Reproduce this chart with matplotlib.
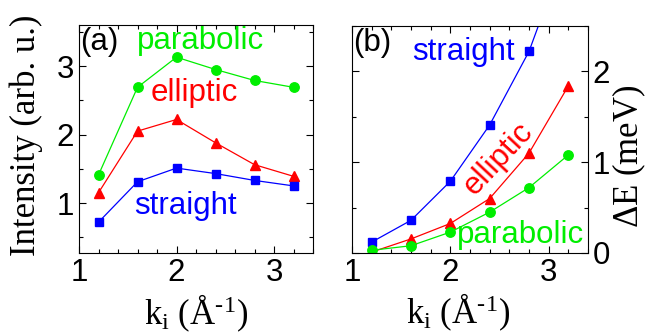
import matplotlib
matplotlib.use('Agg')
import matplotlib.pyplot as plt
from matplotlib.ticker import MultipleLocator

# ---- data ----
ki = [1.2, 1.6, 2.0, 2.4, 2.8, 3.2]

int_parabolic = [1.41, 2.69, 3.13, 2.95, 2.79, 2.69]
int_elliptic = [1.15, 2.05, 2.22, 1.88, 1.56, 1.39]
int_straight = [0.72, 1.31, 1.51, 1.43, 1.33, 1.25]

de_straight = [0.12, 0.36, 0.79, 1.41, 2.22, 3.40]
de_elliptic = [0.01, 0.155, 0.325, 0.60, 1.10, 1.84]
de_parabolic = [0.03, 0.08, 0.23, 0.45, 0.72, 1.08]

GREEN = '#00ee00'
RED = '#ff0000'
BLUE = '#0000ff'

plt.rcParams['font.family'] = 'Liberation Sans'
plt.rcParams['mathtext.fontset'] = 'custom'
plt.rcParams['mathtext.rm'] = 'Liberation Serif'
plt.rcParams['mathtext.it'] = 'Liberation Serif:italic'

FS = 22.5     # in-plot text and tick labels
LFS = 25      # axis labels

fig = plt.figure(figsize=(6.49, 3.34), dpi=100)
ax1 = fig.add_axes([79/649, 1-253/334, 234/649, 228/334])
ax2 = fig.add_axes([352/649, 1-253/334, 236/649, 227/334])

def style(ax):
    ax.set_xlim(1, 3.4)
    ax.xaxis.set_major_locator(MultipleLocator(1))
    ax.xaxis.set_minor_locator(MultipleLocator(0.2))
    ax.yaxis.set_major_locator(MultipleLocator(1))
    ax.yaxis.set_minor_locator(MultipleLocator(0.5))
    ax.tick_params(which='both', direction='in', top=True, right=True,
                   left=True, bottom=True, labelsize=FS, width=0.8)
    ax.tick_params(which='major', length=5)
    ax.tick_params(which='minor', length=3)
    for s in ax.spines.values():
        s.set_linewidth(0.8)

xlab = r'k$_\mathregular{i}$ (Å$^{\mathregular{\text{-}1}}$)'

# ---- (a) ----
ax1.plot(ki, int_parabolic, '-o', color=GREEN, lw=0.9, ms=6.8)
ax1.plot(ki, int_elliptic, '-^', color=RED, lw=0.9, ms=7.7)
ax1.plot(ki, int_straight, '-s', color=BLUE, lw=0.9, ms=5.8)
style(ax1)
ax1.set_ylim(0.27, 3.6)
ax1.text(0.005, 0.99, '(a)', transform=ax1.transAxes, fontsize=FS, va='top', ha='left')
ax1.text(1.59, 3.36, 'parabolic', color=GREEN, fontsize=FS, ha='left', va='center')
ax1.text(1.73, 2.61, 'elliptic', color=RED, fontsize=FS, ha='left', va='center')
ax1.text(1.57, 0.95, 'straight', color=BLUE, fontsize=FS, ha='left', va='center')
ax1.set_ylabel('Intensity (arb. u.)', family='Liberation Serif', fontsize=LFS)
ax1.yaxis.set_label_coords(-0.154, 0.518)
ax1.set_xlabel(xlab, family='Liberation Serif', fontsize=LFS)
ax1.xaxis.set_label_coords(0.5, -0.172)

# ---- (b) ----
ax2.plot(ki, de_straight, '-s', color=BLUE, lw=0.9, ms=5.8)
ax2.plot(ki, de_elliptic, '-^', color=RED, lw=0.9, ms=7.7)
ax2.plot(ki, de_parabolic, '-o', color=GREEN, lw=0.9, ms=6.8)
style(ax2)
ax2.set_ylim(0, 2.5)
ax2.yaxis.tick_right()
ax2.tick_params(which='both', left=True, right=True, labelleft=False, labelright=True)
ax2.yaxis.set_label_position('right')
ax2.text(0.005, 0.99, '(b)', transform=ax2.transAxes, fontsize=FS, va='top', ha='left')
ax2.text(1.61, 2.21, 'straight', color=BLUE, fontsize=FS, ha='left', va='center')
ax2.text(2.49, 1.04, 'elliptic', color=RED, fontsize=FS, ha='center', va='center', rotation=47)
ax2.text(2.07, 0.20, 'parabolic', color=GREEN, fontsize=FS, ha='left', va='center')
ax2.set_ylabel(r'$\mathregular{\Delta}$E (meV)', family='Liberation Serif', fontsize=LFS)
ax2.yaxis.set_label_coords(1.097, 0.425)
ax2.set_xlabel(xlab, family='Liberation Serif', fontsize=LFS)
ax2.xaxis.set_label_coords(0.45, -0.172)

fig.savefig('out.png', dpi=100)
